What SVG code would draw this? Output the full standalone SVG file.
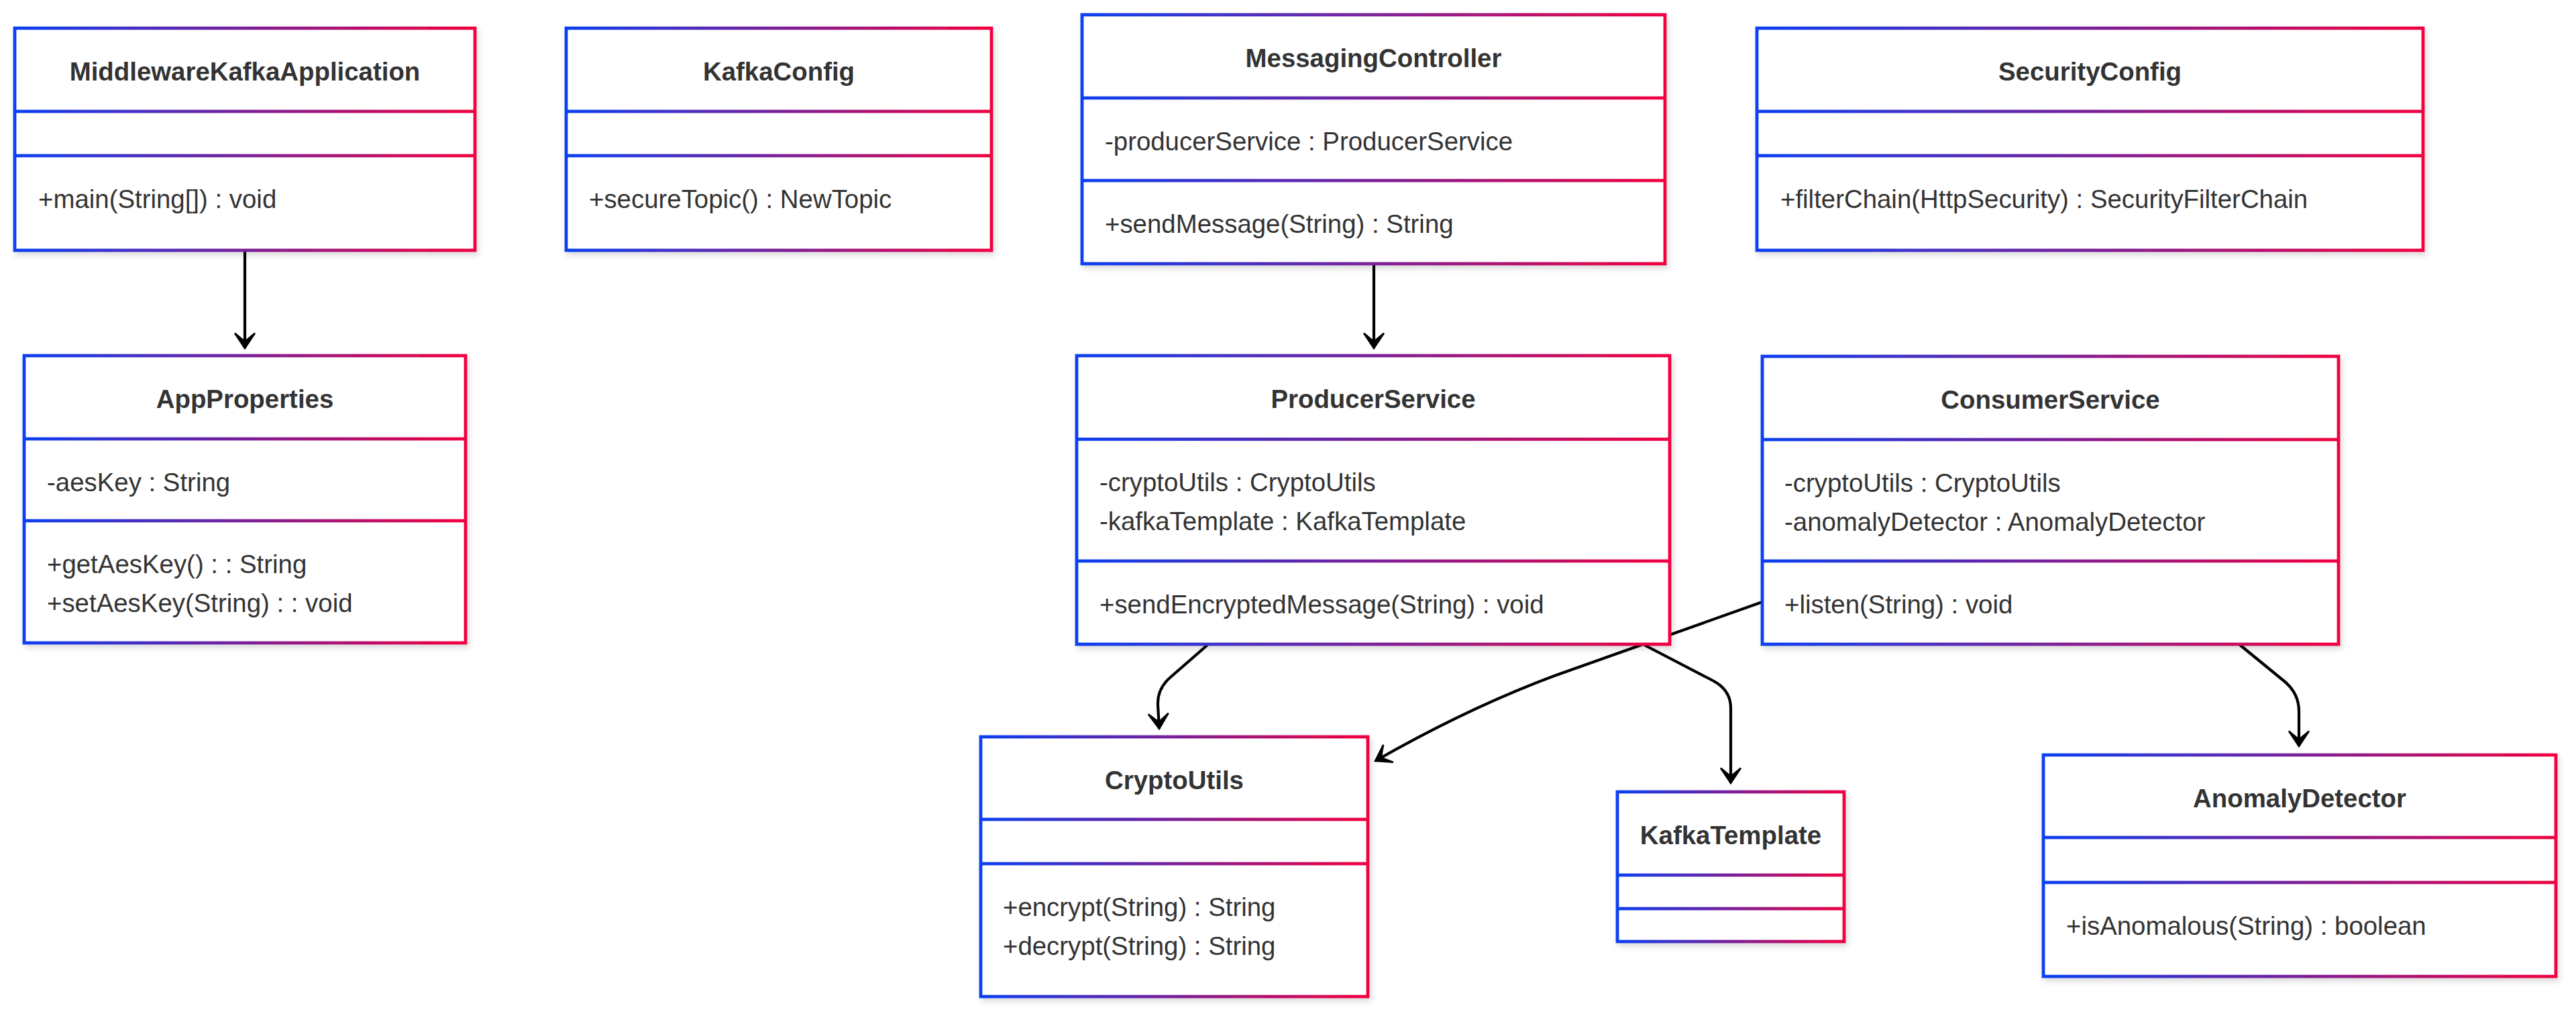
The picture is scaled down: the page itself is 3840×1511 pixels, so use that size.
<svg xmlns="http://www.w3.org/2000/svg" width="3840" height="1511" viewBox="0 0 3840 1511">
<defs>
<linearGradient id="g" x1="0" y1="0" x2="1" y2="0">
<stop offset="0" stop-color="#0a3ff2"/>
<stop offset="0.5" stop-color="#7a2098"/>
<stop offset="1" stop-color="#f2003f"/>
</linearGradient>
<filter id="sh" x="-5%" y="-5%" width="110%" height="115%">
<feDropShadow dx="3" dy="5" stdDeviation="4" flood-color="#000" flood-opacity="0.14"/>
</filter>
<marker id="arr" viewBox="0 0 20 14" markerUnits="userSpaceOnUse" markerWidth="50" markerHeight="35" refX="18" refY="7" orient="auto">
<path d="M18,7 L9,13 L14,7 L9,1 Z" fill="#000" stroke="#000" stroke-width="1"/>
</marker>
</defs>
<style>
.box{fill:#fff;stroke:url(#g);stroke-width:4.8;filter:url(#sh)}
.div{fill:url(#g)}
.t{font-family:"Liberation Sans",Arial,sans-serif;font-size:38.4px;font-weight:bold;fill:#333;text-anchor:middle}
.m{font-family:"Liberation Sans",Arial,sans-serif;font-size:38.4px;fill:#333}
.e{fill:none;stroke:#000;stroke-width:4.2;marker-end:url(#arr)}
</style>
<rect width="3840" height="1511" fill="#fff"/>
<g id="connectors">
<path class="e" d="M365,373 L365,519"/>
<path class="e" d="M2048,393 L2048,519"/>
<path class="e" d="M1800,961 L1745,1009 Q1725,1026 1726,1050 L1728,1086"/>
<path class="e" d="M2451,961 L2553,1014 Q2580,1028 2580,1055 L2580,1167"/>
<path class="e" d="M2627,897 L2320,1006 Q2190,1054 2050,1134"/>
<path class="e" d="M3339,961 L3405,1015 Q3427,1033 3427,1060 L3427,1112"/>
</g>
<g id="MiddlewareKafkaApplication">
<rect class="box" x="22" y="42" width="686" height="331"/>
<rect class="div" x="22" y="163.6" width="686" height="4.8"/>
<rect class="div" x="22" y="229.6" width="686" height="4.8"/>
<text class="t" x="365" y="120">MiddlewareKafkaApplication</text>
<text class="m" x="57" y="310">+main(String[]) : void</text>
</g>
<g id="KafkaConfig">
<rect class="box" x="844" y="42" width="634" height="331"/>
<rect class="div" x="844" y="163.6" width="634" height="4.8"/>
<rect class="div" x="844" y="229.6" width="634" height="4.8"/>
<text class="t" x="1161" y="120">KafkaConfig</text>
<text class="m" x="878" y="310">+secureTopic() : NewTopic</text>
</g>
<g id="MessagingController">
<rect class="box" x="1613" y="22" width="869" height="371"/>
<rect class="div" x="1613" y="143.6" width="869" height="4.8"/>
<rect class="div" x="1613" y="266.6" width="869" height="4.8"/>
<text class="t" x="2047.5" y="100">MessagingController</text>
<text class="m" x="1647" y="224">-producerService : ProducerService</text>
<text class="m" x="1647" y="347">+sendMessage(String) : String</text>
</g>
<g id="SecurityConfig">
<rect class="box" x="2619" y="42" width="993" height="331"/>
<rect class="div" x="2619" y="163.6" width="993" height="4.8"/>
<rect class="div" x="2619" y="229.6" width="993" height="4.8"/>
<text class="t" x="3115.5" y="120">SecurityConfig</text>
<text class="m" x="2654" y="310">+filterChain(HttpSecurity) : SecurityFilterChain</text>
</g>
<g id="AppProperties">
<rect class="box" x="36" y="530" width="658" height="428"/>
<rect class="div" x="36" y="651.6" width="658" height="4.8"/>
<rect class="div" x="36" y="773.6" width="658" height="4.8"/>
<text class="t" x="365" y="608">AppProperties</text>
<text class="m" x="70" y="732">-aesKey : String</text>
<text class="m" x="70" y="854">+getAesKey() : : String</text>
<text class="m" x="70" y="912">+setAesKey(String) : : void</text>
</g>
<g id="ProducerService">
<rect class="box" x="1605" y="530" width="884" height="430"/>
<rect class="div" x="1605" y="652.1" width="884" height="4.8"/>
<rect class="div" x="1605" y="833.6" width="884" height="4.8"/>
<text class="t" x="2047" y="608">ProducerService</text>
<text class="m" x="1639" y="732">-cryptoUtils : CryptoUtils</text>
<text class="m" x="1639" y="790">-kafkaTemplate : KafkaTemplate</text>
<text class="m" x="1639" y="914">+sendEncryptedMessage(String) : void</text>
</g>
<g id="ConsumerService">
<rect class="box" x="2627" y="531" width="859" height="429"/>
<rect class="div" x="2627" y="652.6" width="859" height="4.8"/>
<rect class="div" x="2627" y="833.6" width="859" height="4.8"/>
<text class="t" x="3056.5" y="609">ConsumerService</text>
<text class="m" x="2660" y="733">-cryptoUtils : CryptoUtils</text>
<text class="m" x="2660" y="791">-anomalyDetector : AnomalyDetector</text>
<text class="m" x="2660" y="914">+listen(String) : void</text>
</g>
<g id="CryptoUtils">
<rect class="box" x="1462" y="1098" width="577" height="387"/>
<rect class="div" x="1462" y="1218.6" width="577" height="4.8"/>
<rect class="div" x="1462" y="1284.6" width="577" height="4.8"/>
<text class="t" x="1750.5" y="1176">CryptoUtils</text>
<text class="m" x="1495" y="1365">+encrypt(String) : String</text>
<text class="m" x="1495" y="1423">+decrypt(String) : String</text>
</g>
<g id="KafkaTemplate">
<rect class="box" x="2411" y="1180" width="338" height="223"/>
<rect class="div" x="2411" y="1301.6" width="338" height="4.8"/>
<rect class="div" x="2411" y="1351.6" width="338" height="4.8"/>
<text class="t" x="2580" y="1258">KafkaTemplate</text>
</g>
<g id="AnomalyDetector">
<rect class="box" x="3046" y="1125" width="764" height="330"/>
<rect class="div" x="3046" y="1245.6" width="764" height="4.8"/>
<rect class="div" x="3046" y="1312.6" width="764" height="4.8"/>
<text class="t" x="3428" y="1203">AnomalyDetector</text>
<text class="m" x="3080" y="1393">+isAnomalous(String) : boolean</text>
</g>
</svg>
